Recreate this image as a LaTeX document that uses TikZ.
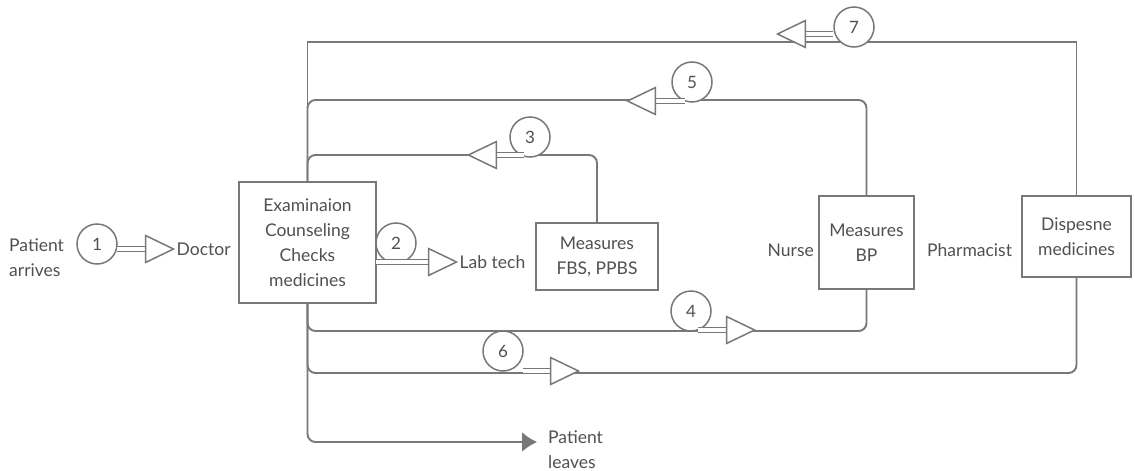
\documentclass[tikz,border=0pt]{standalone}
\usepackage{fontspec}
\setmainfont{Lato}
\usetikzlibrary{arrows.meta,shapes.geometric}

\begin{document}
\begin{tikzpicture}[x=1pt,y=-1pt,>=latex]

\definecolor{linegray}{RGB}{120,120,120}
\definecolor{textgray}{RGB}{80,80,80}

\tikzset{
	box/.style={draw=linegray,line width=1.7pt,fill=white,text=textgray,align=center,inner sep=0pt,font=\fontsize{17.5}{25}\selectfont},
	lbl/.style={text=textgray,inner sep=1pt,font=\fontsize{17.5}{25}\selectfont},
	num/.style={circle,draw=linegray,line width=1.5pt,fill=white,minimum size=40pt,inner sep=0pt,text=textgray,font=\fontsize{17}{18}\selectfont},
	head/.style={isosceles triangle,isosceles triangle stretches,draw=linegray,line width=1.5pt,fill=white,minimum width=27pt,minimum height=28pt,inner sep=0pt},
	shaft/.style={draw=linegray,line width=1.4pt,double=white,double distance=4pt},
	flow/.style={draw=linegray,line width=1.9pt}
}

\useasboundingbox (0,0) rectangle (1135,471);

\node[box,minimum width=137pt,minimum height=121pt] (exam) at (307.5,242.5) {Examinaion\\Counseling\\Checks\\medicines};
\node[box,minimum width=122pt,minimum height=67pt] (fbs) at (597,256.5) {Measures\\FBS, PPBS};
\node[box,minimum width=95pt,minimum height=93pt] (bp) at (866.5,242.5) {Measures\\BP};
\node[box,minimum width=109pt,minimum height=81pt] (disp) at (1076.5,236.5) {Dispesne\\medicines};

\node[lbl,align=left,anchor=west] (arrives) at (8,258) {Patient\\arrives};
\node[lbl,anchor=east] (nurse) at (815,250) {Nurse};
\node[lbl,anchor=west] (pharm) at (926,250) {Pharmacist};
\node[lbl,align=left,anchor=west] (leaves) at (547,449.5) {Patient\\leaves};
\coordinate (out) at (537,442);

\draw[flow] (disp.north) |- (exam.north |- 0,42) -- (exam.north);
\draw[flow,rounded corners=8pt] (bp.north) |- (exam.north |- 0,100) -- (exam.north);
\draw[flow,rounded corners=8pt] (fbs.north) |- (exam.north |- 0,155) -- (exam.north);
\draw[flow,rounded corners=8pt] (exam.south) |- (bp.south |- 0,331) -- (bp.south);
\draw[flow,rounded corners=8pt] (exam.south) |- (disp.south |- 0,373) [sharp corners] -- (disp.south);
\draw[flow,rounded corners=8pt,-{Latex[length=15pt,width=20pt]}] (exam.south) |- (out);

\foreach \n/\x/\y in {1/97/244,2/396/243,3/530/137,4/691/311,5/692/82,6/503/351,7/854/27}{
	\node[num] (c\n) at (\x,\y) {\n};
}

\foreach \n/\x/\y/\r/\l in {1/154/249/0/-37,2/437/262/0/-61,3/488/155/180/36,4/735/330/0/-37,5/647/101/180/38,6/559/371/0/-36,7/797/34/180/36}{
	\coordinate (h\n) at (\x,\y);
	\draw[shaft] (h\n) -- ++(\l,0);
	\node[head,shape border rotate=\r] (t\n) at (h\n) {};
}

\node[lbl,right] (doctor) at (t1.apex) {Doctor};
\node[lbl,right] (labtech) at (t2.apex) {Lab tech};

\end{tikzpicture}
\end{document}
